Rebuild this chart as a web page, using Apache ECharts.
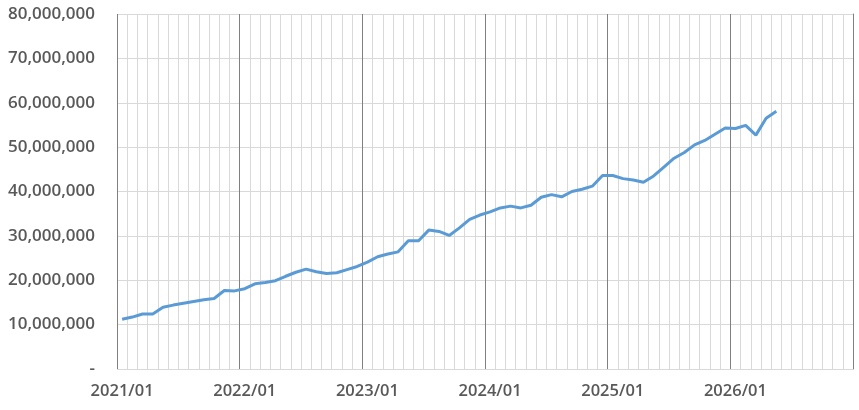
<!DOCTYPE html>
<html>
<head>
<meta charset="utf-8">
<script src="https://cdn.jsdelivr.net/npm/echarts@6/dist/echarts.min.js"></script>
<style>
html,body{margin:0;padding:0;background:#fff;}
#chart{width:859px;height:410px;}
</style>
</head>
<body>
<div id="chart"></div>
<script>
// Monthly categories 2021/01 .. 2026/12
const years = [2021, 2022, 2023, 2024, 2025, 2026];
const months = ['01','02','03','04','05','06','07','08','09','10','11','12'];
const categories = [];
years.forEach(y => months.forEach(m => categories.push(y + '/' + m)));

// Values (2021/01 .. 2026/05)
const values = [
  11.2, 11.7, 12.4, 12.4, 13.9, 14.4, 14.8, 15.2, 15.6, 15.9, 17.7, 17.6,
  18.1, 19.2, 19.5, 19.9, 20.9, 21.8, 22.5, 21.9, 21.5, 21.7, 22.4, 23.1,
  24.1, 25.3, 25.9, 26.4, 28.9, 28.9, 31.3, 31.0, 30.1, 31.8, 33.7, 34.7,
  35.4, 36.3, 36.7, 36.3, 36.9, 38.7, 39.3, 38.8, 40.0, 40.5, 41.2, 43.6,
  43.6, 42.9, 42.6, 42.1, 43.5, 45.5, 47.5, 48.8, 50.5, 51.5, 52.9, 54.3,
  54.2, 54.9, 52.7, 56.5, 58.1
].map(v => Math.round(v * 1000000));

const yMin = 0, yMax = 80000000, yStep = 10000000;

const chart = echarts.init(document.getElementById('chart'));
const fontFamily = '"Open Sans", sans-serif';
chart.setOption({
  animation: false,
  grid: { left: 117, right: 6, top: 14, bottom: 41 },
  xAxis: [
    {
      type: 'category',
      data: categories,
      boundaryGap: true,
      axisLine: { show: false },
      axisTick: { show: false },
      axisLabel: {
        interval: 11,
        margin: 14,
        color: '#595959',
        fontFamily: fontFamily,
        fontSize: 16.5,
        fontWeight: 600
      },
      splitLine: { show: true, interval: 0, lineStyle: { color: '#D9D9D9', width: 1 } }
    },
    {
      type: 'category',
      data: categories,
      boundaryGap: true,
      position: 'bottom',
      z: 1,
      axisLine: { show: false },
      axisTick: { show: false },
      axisLabel: { show: false },
      splitLine: { show: true, interval: 11, lineStyle: { color: '#808080', width: 1 } }
    }
  ],
  yAxis: [
    {
      type: 'value',
      min: yMin,
      max: yMax,
      interval: yStep,
      axisLine: { show: false },
      axisTick: { show: false },
      axisLabel: {
        margin: 22,
        color: '#595959',
        fontFamily: fontFamily,
        fontSize: 17,
        fontWeight: 600,
        formatter: v => v === 0 ? '-' : v.toLocaleString('en-US')
      },
      splitLine: { show: true, lineStyle: { color: '#D9D9D9', width: 1 } }
    },
    {
      type: 'value',
      position: 'right',
      min: yMin,
      max: yMax,
      interval: yStep,
      axisLine: { show: true, lineStyle: { color: '#808080', width: 1 } },
      axisTick: { show: false },
      axisLabel: { show: false },
      splitLine: { show: false }
    }
  ],
  series: [
    {
      type: 'line',
      data: values,
      symbol: 'none',
      smooth: false,
      z: 5,
      lineStyle: { color: '#5B9BD5', width: 3 }
    }
  ]
});
</script>
</body>
</html>
